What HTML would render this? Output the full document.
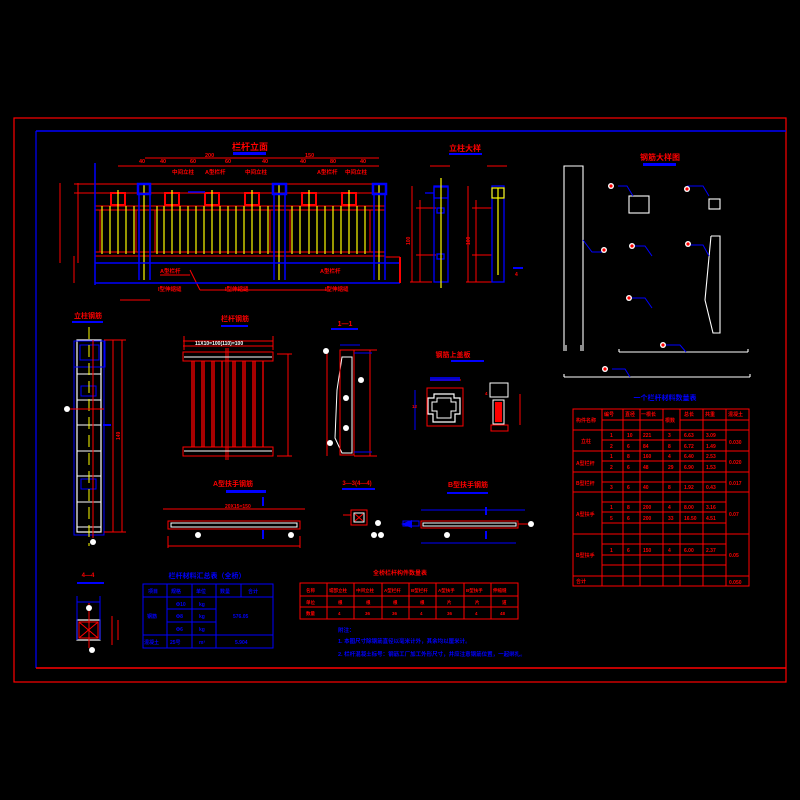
<!DOCTYPE html>
<html><head><meta charset="utf-8"><style>
html,body{margin:0;padding:0;background:#000;}
svg{display:block}
text{font-family:"Liberation Sans","Noto Sans CJK SC",sans-serif;font-weight:bold}
</style></head><body>
<svg width="800" height="800" viewBox="0 0 800 800" xmlns="http://www.w3.org/2000/svg">
<rect width="800" height="800" fill="#000"/>
<!-- frames -->
<rect x="14" y="118" width="772" height="564" fill="none" stroke="#f00" stroke-width="1.2"/>
<line x1="36" y1="131" x2="786" y2="131" stroke="#00f" stroke-width="1.5"/>
<line x1="36" y1="131" x2="36" y2="668" stroke="#00f" stroke-width="1.2"/>
<line x1="36" y1="668" x2="786" y2="668" stroke="#f00" stroke-width="1.5"/>

<!-- ===== Elevation ===== -->
<text x="250" y="150" fill="#f00" font-size="9" text-anchor="middle">栏杆立面</text>
<rect x="233" y="152" width="33" height="3" fill="#00f"/>
<g stroke="#f00" stroke-width="1" fill="none">
<line x1="145" y1="158" x2="379" y2="158"/>
<line x1="118" y1="166" x2="379" y2="166"/>
<line x1="74" y1="184" x2="379" y2="184"/>
<line x1="74" y1="193" x2="379" y2="193"/>
<line x1="95" y1="206" x2="385" y2="206"/>
<line x1="95" y1="210" x2="385" y2="210"/>
<line x1="95" y1="252" x2="385" y2="252"/>
<line x1="95" y1="256" x2="385" y2="256"/>
<line x1="78" y1="183" x2="78" y2="263"/>
<line x1="74" y1="256" x2="74" y2="283"/>
<rect x="100" y="210" width="36" height="42"/>
<rect x="155" y="210" width="115" height="42"/>
<rect x="290" y="210" width="80" height="42"/>
<line x1="385" y1="257" x2="400" y2="257"/>
<line x1="270" y1="290" x2="200" y2="290"/><line x1="200" y1="290" x2="190" y2="270"/>
<line x1="330" y1="290" x2="268" y2="290"/>
<line x1="160" y1="275" x2="190" y2="275"/>
<line x1="120" y1="300" x2="150" y2="300"/>
</g>
<!-- ornaments -->
<g fill="none" stroke="#f00" stroke-width="2">
<rect x="111" y="193" width="14" height="12"/><rect x="165" y="193" width="14" height="12"/>
<rect x="205" y="193" width="14" height="12"/><rect x="245" y="193" width="14" height="12"/>
<rect x="302" y="193" width="14" height="12"/><rect x="342" y="193" width="14" height="12"/>
</g>
<!-- yellow balusters -->
<g stroke="#ff0" stroke-width="1.2">
<line x1="102" y1="206" x2="102" y2="254"/><line x1="110" y1="206" x2="110" y2="254"/><line x1="118" y1="190" x2="118" y2="254"/><line x1="126" y1="206" x2="126" y2="254"/><line x1="134" y1="206" x2="134" y2="254"/>
<line x1="157" y1="206" x2="157" y2="254"/><line x1="164" y1="206" x2="164" y2="254"/><line x1="172" y1="190" x2="172" y2="254"/><line x1="180" y1="206" x2="180" y2="254"/><line x1="188" y1="206" x2="188" y2="254"/><line x1="196" y1="206" x2="196" y2="254"/><line x1="204" y1="206" x2="204" y2="254"/><line x1="212" y1="190" x2="212" y2="254"/><line x1="220" y1="206" x2="220" y2="254"/><line x1="228" y1="206" x2="228" y2="254"/><line x1="236" y1="206" x2="236" y2="254"/><line x1="244" y1="206" x2="244" y2="254"/><line x1="252" y1="190" x2="252" y2="254"/><line x1="260" y1="206" x2="260" y2="254"/><line x1="268" y1="206" x2="268" y2="254"/>
<line x1="292" y1="206" x2="292" y2="254"/><line x1="300" y1="206" x2="300" y2="254"/><line x1="309" y1="190" x2="309" y2="254"/><line x1="317" y1="206" x2="317" y2="254"/><line x1="325" y1="206" x2="325" y2="254"/><line x1="333" y1="206" x2="333" y2="254"/><line x1="341" y1="206" x2="341" y2="254"/><line x1="349" y1="190" x2="349" y2="254"/><line x1="357" y1="206" x2="357" y2="254"/><line x1="365" y1="206" x2="365" y2="254"/>
<line x1="144" y1="185" x2="144" y2="280"/><line x1="279" y1="185" x2="279" y2="280"/><line x1="379" y1="185" x2="379" y2="280"/>
</g>
<!-- posts -->
<g fill="none" stroke="#00f" stroke-width="1.5">
<rect x="138" y="184" width="12" height="10" stroke-width="2.5"/><rect x="273" y="184" width="13" height="10" stroke-width="2.5"/><rect x="373" y="184" width="13" height="10" stroke-width="2.5"/>
<line x1="139" y1="194" x2="139" y2="280"/><line x1="150" y1="194" x2="150" y2="280"/>
<line x1="274" y1="194" x2="274" y2="280"/><line x1="285" y1="194" x2="285" y2="280"/>
<line x1="374" y1="194" x2="374" y2="280"/><line x1="385" y1="194" x2="385" y2="280"/>
<line x1="95" y1="263" x2="400" y2="263"/><line x1="95" y1="283" x2="400" y2="283"/>
<line x1="95" y1="163" x2="95" y2="285"/>
<line x1="188" y1="192" x2="205" y2="192"/>
</g>
<g fill="#f00" font-size="5.5">
<text x="139" y="163">40</text><text x="160" y="163">40</text><text x="190" y="163">60</text><text x="225" y="163">60</text><text x="262" y="163">40</text><text x="300" y="163">40</text><text x="330" y="163">80</text><text x="360" y="163">40</text>
<text x="205" y="157">200</text><text x="305" y="157">150</text>
<text x="160" y="273" fill="#f00">A型栏杆</text><text x="320" y="273">A型栏杆</text>
<text x="158" y="291">I型伸缩缝</text><text x="225" y="291">I型伸缩缝</text><text x="325" y="291">I型伸缩缝</text>
<text x="172" y="174">中间立柱</text><text x="205" y="174">A型栏杆</text><text x="245" y="174">中间立柱</text><text x="317" y="174">A型栏杆</text><text x="345" y="174">中间立柱</text>
</g>
<line x1="60" y1="183" x2="60" y2="263" stroke="#f00"/>

<!-- ===== Column detail (top middle-right) ===== -->
<text x="465" y="151" fill="#f00" font-size="8" text-anchor="middle">立柱大样</text>
<rect x="449" y="153" width="33" height="2" fill="#00f"/>
<g fill="none" stroke="#f00" stroke-width="1">
<line x1="412" y1="186" x2="412" y2="282"/><line x1="420" y1="200" x2="420" y2="282"/><line x1="410" y1="282" x2="432" y2="282"/>
<line x1="468" y1="186" x2="468" y2="282"/><line x1="476" y1="200" x2="476" y2="282"/><line x1="466" y1="282" x2="492" y2="282"/>
<line x1="416" y1="208" x2="436" y2="208"/><line x1="416" y1="255" x2="436" y2="255"/>
<line x1="472" y1="208" x2="492" y2="208"/><line x1="472" y1="255" x2="492" y2="255"/>
<line x1="430" y1="166" x2="450" y2="166"/><line x1="487" y1="166" x2="507" y2="166"/>
</g>
<g fill="none" stroke="#00f" stroke-width="1.3">
<rect x="434" y="186" width="14" height="96"/><rect x="492" y="186" width="12" height="96"/>
<rect x="434" y="187" width="14" height="11"/><rect x="437" y="208" width="7" height="5"/><rect x="437" y="254" width="7" height="5"/>
<line x1="425" y1="193" x2="434" y2="193"/>
<line x1="513" y1="268" x2="523" y2="268" stroke-width="2"/>
</g>
<g stroke="#ff0" stroke-width="1.2"><line x1="441" y1="178" x2="441" y2="288"/><line x1="498" y1="188" x2="498" y2="275"/>
<rect x="492" y="188" width="12" height="10" fill="none"/></g>
<g fill="#f00" font-size="5"><text x="408" y="243" transform="rotate(-90 410 243)">100</text><text x="468" y="243" transform="rotate(-90 470 243)">100</text><text x="515" y="276">4</text></g>
<rect x="399" y="257" width="2" height="26" fill="#f00"/>

<!-- ===== Rebar details (top right) ===== -->
<text x="660" y="160" fill="#f00" font-size="8" text-anchor="middle">钢筋大样图</text>
<rect x="643" y="163" width="33" height="3" fill="#00f"/>
<g fill="none" stroke="#fff" stroke-width="1.1">
<path d="M564 351 V166 H583 V351 M566 345 v6 M581 345 v6"/>
<rect x="629" y="196" width="20" height="17"/>
<rect x="709" y="199" width="11" height="10"/>
<path d="M711 236 H720 V333 H713 L705 300 L711 236"/>
<path d="M619 352 H748 M619 352 v-3 M748 352 v-3"/>
<path d="M564 377 H750 M564 377 v-3 M750 377 v-3"/>
</g>
<g fill="none" stroke="#00f" stroke-width="1"><path d="M583 240 L592 252 H603"/><path d="M618 186 H627 L633 196"/><path d="M687 186 H703 L709 196"/><path d="M634 246 H645 L652 256"/><path d="M687 245 H703 L709 256"/><path d="M630 298 H645 L652 308"/><path d="M666 345 H680 L686 352"/><path d="M612 369 H625 L630 377"/></g>
<g fill="#fff"><circle cx="604" cy="250" r="3"/><circle cx="611" cy="186" r="3"/><circle cx="687" cy="189" r="3"/><circle cx="632" cy="246" r="3"/><circle cx="688" cy="244" r="3"/><circle cx="629" cy="298" r="3"/><circle cx="663" cy="345" r="3"/><circle cx="605" cy="369" r="3"/></g>
<g fill="#f00"><circle cx="604" cy="250" r="1.6"/><circle cx="611" cy="186" r="1.6"/><circle cx="687" cy="189" r="1.6"/><circle cx="632" cy="246" r="1.6"/><circle cx="688" cy="244" r="1.6"/><circle cx="629" cy="298" r="1.6"/><circle cx="663" cy="345" r="1.6"/><circle cx="605" cy="369" r="1.6"/></g>

<!-- ===== Table right ===== -->
<text x="665" y="400" fill="#00f" font-size="7" text-anchor="middle">一个栏杆材料数量表</text>
<g fill="none" stroke="#f00" stroke-width="1">
<rect x="573" y="409" width="176" height="177"/>
<line x1="602" y1="409" x2="602" y2="586"/><line x1="623" y1="409" x2="623" y2="586"/><line x1="640" y1="409" x2="640" y2="586"/><line x1="663" y1="409" x2="663" y2="586"/><line x1="680" y1="409" x2="680" y2="586"/><line x1="703" y1="409" x2="703" y2="586"/><line x1="726" y1="409" x2="726" y2="586"/>
<line x1="602" y1="420" x2="663" y2="420"/><line x1="680" y1="420" x2="749" y2="420"/>
<line x1="573" y1="430" x2="749" y2="430"/>
<line x1="602" y1="440" x2="726" y2="440"/><line x1="573" y1="451" x2="749" y2="451"/>
<line x1="602" y1="461" x2="726" y2="461"/><line x1="573" y1="472" x2="749" y2="472"/>
<line x1="602" y1="482" x2="726" y2="482"/><line x1="573" y1="492" x2="749" y2="492"/>
<line x1="602" y1="502" x2="726" y2="502"/><line x1="602" y1="512" x2="726" y2="512"/><line x1="602" y1="523" x2="726" y2="523"/>
<line x1="573" y1="534" x2="749" y2="534"/>
<line x1="602" y1="544" x2="726" y2="544"/><line x1="602" y1="555" x2="726" y2="555"/><line x1="602" y1="565" x2="726" y2="565"/>
<line x1="573" y1="576" x2="749" y2="576"/>
</g>
<g fill="#f00" font-size="5">
<text x="576" y="422">构件名称</text><text x="604" y="416">编号</text><text x="625" y="416">直径</text><text x="641" y="416">一根长</text><text x="665" y="422">根数</text><text x="684" y="416">总长</text><text x="705" y="416">共重</text><text x="728" y="416">混凝土</text>
<text x="581" y="443">立柱</text><text x="576" y="465">A型栏杆</text><text x="576" y="485">B型栏杆</text><text x="576" y="516">A型扶手</text><text x="576" y="557">B型扶手</text><text x="576" y="583">合计</text>
<text x="729" y="444">0.030</text><text x="729" y="464">0.020</text><text x="729" y="485">0.017</text><text x="729" y="516">0.07</text><text x="729" y="557">0.05</text><text x="729" y="584">0.050</text>
<text x="610" y="437">1</text><text x="627" y="437">10</text><text x="643" y="437">221</text><text x="668" y="437">3</text><text x="684" y="437">6.63</text><text x="706" y="437">3.09</text>
<text x="610" y="448">2</text><text x="627" y="448">6</text><text x="643" y="448">84</text><text x="668" y="448">8</text><text x="684" y="448">6.72</text><text x="706" y="448">1.49</text>
<text x="610" y="458">1</text><text x="627" y="458">8</text><text x="643" y="458">160</text><text x="668" y="458">4</text><text x="684" y="458">6.40</text><text x="706" y="458">2.53</text>
<text x="610" y="469">2</text><text x="627" y="469">6</text><text x="643" y="469">48</text><text x="668" y="469">29</text><text x="684" y="469">6.90</text><text x="706" y="469">1.53</text>
<text x="610" y="489">3</text><text x="627" y="489">6</text><text x="643" y="489">40</text><text x="668" y="489">8</text><text x="684" y="489">1.92</text><text x="706" y="489">0.43</text>
<text x="610" y="509">1</text><text x="627" y="509">8</text><text x="643" y="509">200</text><text x="668" y="509">4</text><text x="684" y="509">8.00</text><text x="706" y="509">3.16</text>
<text x="610" y="520">5</text><text x="627" y="520">6</text><text x="643" y="520">200</text><text x="668" y="520">33</text><text x="684" y="520">16.50</text><text x="706" y="520">4.51</text>
<text x="610" y="552">1</text><text x="627" y="552">6</text><text x="643" y="552">150</text><text x="668" y="552">4</text><text x="684" y="552">6.00</text><text x="706" y="552">2.37</text>
</g>

<!-- ===== Post section left ===== -->
<text x="88" y="318" fill="#f00" font-size="7" text-anchor="middle">立柱钢筋</text>
<rect x="72" y="321" width="31" height="2" fill="#00f"/>
<g fill="none">
<rect x="77" y="340" width="24" height="192" stroke="#fff" stroke-width="1.2"/>
<rect x="74" y="341" width="30" height="194" stroke="#00f" stroke-width="1"/>
<rect x="74" y="341" width="31" height="26" stroke="#00f"/><rect x="80" y="345" width="19" height="15" stroke="#00f"/>
<rect x="81" y="386" width="15" height="10" stroke="#00f"/><rect x="81" y="479" width="15" height="10" stroke="#00f"/>
<g stroke="#fff"><line x1="77" y1="374" x2="101" y2="374"/><line x1="77" y1="400" x2="101" y2="400"/><line x1="77" y1="425" x2="101" y2="425"/><line x1="77" y1="451" x2="101" y2="451"/><line x1="77" y1="476" x2="101" y2="476"/><line x1="77" y1="502" x2="101" y2="502"/><line x1="77" y1="527" x2="101" y2="527"/></g>
<line x1="89" y1="327" x2="89" y2="546" stroke="#ff0" stroke-dasharray="12 6"/>
<line x1="93" y1="340" x2="93" y2="538" stroke="#f00"/>
<line x1="113" y1="340" x2="113" y2="532" stroke="#f00"/><line x1="122" y1="340" x2="122" y2="532" stroke="#f00"/>
<line x1="104" y1="340" x2="126" y2="340" stroke="#f00"/><line x1="104" y1="532" x2="126" y2="532" stroke="#f00"/>
<line x1="68" y1="409" x2="104" y2="409" stroke="#f00"/>
</g>
<circle cx="67" cy="409" r="3" fill="#fff"/><circle cx="93" cy="542" r="3" fill="#fff"/>
<rect x="103" y="424" width="8" height="2" fill="#00f"/>
<text x="120" y="440" fill="#f00" font-size="5" transform="rotate(-90 120 440)">149</text>

<!-- ===== Panel ===== -->
<text x="235" y="321" fill="#f00" font-size="7" text-anchor="middle">栏杆钢筋</text>
<rect x="221" y="325" width="27" height="2" fill="#00f"/>
<g fill="none" stroke="#f00" stroke-width="1">
<rect x="183" y="352" width="90" height="9"/><rect x="183" y="447" width="90" height="9"/>
<line x1="183" y1="341" x2="273" y2="341"/><line x1="183" y1="346" x2="273" y2="346"/>
<line x1="184" y1="336" x2="184" y2="350"/><line x1="273" y1="336" x2="273" y2="350"/>
<line x1="226" y1="348" x2="226" y2="460"/><line x1="228" y1="348" x2="228" y2="460"/>
<line x1="288" y1="354" x2="288" y2="456"/><line x1="277" y1="354" x2="292" y2="354"/><line x1="277" y1="456" x2="292" y2="456"/>
</g>
<g stroke="#f00" stroke-width="1.3">
<line x1="192" y1="361" x2="192" y2="447"/><line x1="194" y1="361" x2="194" y2="447"/><line x1="202" y1="361" x2="202" y2="447"/><line x1="204" y1="361" x2="204" y2="447"/><line x1="212" y1="361" x2="212" y2="447"/><line x1="214" y1="361" x2="214" y2="447"/><line x1="222" y1="361" x2="222" y2="447"/>
<line x1="233" y1="361" x2="233" y2="447"/><line x1="235" y1="361" x2="235" y2="447"/><line x1="243" y1="361" x2="243" y2="447"/><line x1="245" y1="361" x2="245" y2="447"/><line x1="253" y1="361" x2="253" y2="447"/><line x1="255" y1="361" x2="255" y2="447"/><line x1="263" y1="361" x2="263" y2="447"/>
</g>
<g stroke="#fff" stroke-width="1"><line x1="184" y1="357" x2="272" y2="357"/><line x1="184" y1="451" x2="272" y2="451"/></g>
<text x="195" y="345" fill="#fff" font-size="5">11X10=100(110)=100</text>

<!-- ===== 1-1 ===== -->
<text x="345" y="326" fill="#f00" font-size="7" text-anchor="middle">1—1</text>
<rect x="331" y="328" width="27" height="2" fill="#00f"/>
<g fill="none">
<path d="M342 357 H352 V453 H342 L335 438 L337 390 Z" stroke="#fff" stroke-width="1"/>
<rect x="340" y="350" width="14" height="105" stroke="#f00"/>
<line x1="327" y1="350" x2="327" y2="456" stroke="#f00"/><line x1="370" y1="350" x2="370" y2="456" stroke="#f00"/>
<line x1="354" y1="350" x2="377" y2="350" stroke="#f00"/><line x1="354" y1="456" x2="377" y2="456" stroke="#f00"/>
<line x1="340" y1="345" x2="360" y2="345" stroke="#00f"/><line x1="354" y1="353" x2="372" y2="353" stroke="#00f"/><line x1="354" y1="452" x2="372" y2="452" stroke="#00f"/>
</g>
<g fill="#fff"><circle cx="326" cy="351" r="3"/><circle cx="361" cy="380" r="3"/><circle cx="346" cy="398" r="3"/><circle cx="346" cy="428" r="3"/><circle cx="330" cy="443" r="3"/></g>

<!-- ===== Detail ===== -->
<text x="453" y="357" fill="#f00" font-size="7" text-anchor="middle">钢筋上盖板</text>
<rect x="451" y="360" width="33" height="2" fill="#00f"/>
<g fill="none">
<path d="M434 394 H454 V398 H460 V414 H455 V422 H433 V414 H428 V398 H434 Z" stroke="#fff" stroke-width="1.2"/>
<path d="M437 398 H451 V402 H456 V411 H451 V418 H437 V411 H432 V402 H437 Z" stroke="#fff"/>
<rect x="427" y="388" width="36" height="38" stroke="#f00"/>
<rect x="490" y="383" width="18" height="14" stroke="#fff"/>
<rect x="493" y="400" width="11" height="24" stroke="#fff"/>
<rect x="495" y="402" width="7" height="20" fill="#f00"/>
<rect x="491" y="425" width="17" height="6" stroke="#f00"/>
<line x1="415" y1="390" x2="415" y2="430" stroke="#00f"/><line x1="520" y1="394" x2="520" y2="425" stroke="#f00"/>
<line x1="430" y1="380" x2="461" y2="380" stroke="#f00"/>
</g>
<rect x="430" y="377" width="30" height="4" fill="#00f" opacity="0.8"/>
<g fill="#f00" font-size="4.5"><text x="412" y="408">12</text><text x="485" y="395">4</text></g>

<!-- ===== A rail ===== -->
<text x="233" y="486" fill="#f00" font-size="7" text-anchor="middle">A型扶手钢筋</text>
<rect x="226" y="490" width="40" height="3" fill="#00f"/>
<g fill="none">
<rect x="168" y="521" width="132" height="8" stroke="#f00"/>
<rect x="171" y="523" width="126" height="4" stroke="#fff"/>
<line x1="163" y1="509" x2="305" y2="509" stroke="#f00"/>
<line x1="168" y1="536" x2="168" y2="548" stroke="#f00"/><line x1="300" y1="536" x2="300" y2="548" stroke="#f00"/>
<line x1="168" y1="546" x2="300" y2="546" stroke="#f00"/>
</g>
<g fill="#fff"><circle cx="198" cy="535" r="3"/><circle cx="291" cy="535" r="3"/></g>
<rect x="262" y="497" width="2" height="9" fill="#00f"/><rect x="262" y="530" width="2" height="9" fill="#00f"/>
<text x="225" y="508" fill="#f00" font-size="5">20X15=150</text>

<!-- ===== 3-3 ===== -->
<text x="357" y="485" fill="#f00" font-size="6" text-anchor="middle">3—3(4—4)</text>
<rect x="342" y="488" width="33" height="2" fill="#00f"/>
<g fill="none">
<rect x="351" y="510" width="16" height="15" stroke="#f00"/>
<rect x="354" y="513" width="10" height="9" stroke="#fff"/>
<path d="M355 514 L363 521 M363 514 L355 521" stroke="#f00"/>
<line x1="343" y1="515" x2="351" y2="515" stroke="#f00"/>
</g>
<g fill="#fff"><circle cx="378" cy="523" r="3"/><circle cx="374" cy="535" r="3"/><circle cx="381" cy="535" r="3"/></g>

<!-- ===== B rail ===== -->
<text x="468" y="487" fill="#f00" font-size="7" text-anchor="middle">B型扶手钢筋</text>
<rect x="447" y="492" width="41" height="2" fill="#00f"/>
<g fill="none">
<rect x="421" y="521" width="97" height="7" stroke="#f00"/>
<rect x="423" y="523" width="93" height="3" stroke="#fff"/>
<line x1="421" y1="510" x2="525" y2="510" stroke="#00f"/>
<line x1="421" y1="543" x2="516" y2="543" stroke="#00f"/>
<line x1="518" y1="524" x2="532" y2="524" stroke="#f00"/>
</g>
<polygon points="401,524 412,520 412,528" fill="#00f"/>
<rect x="403" y="521" width="16" height="5" fill="none" stroke="#00f"/>
<g fill="#fff"><circle cx="447" cy="535" r="3"/><circle cx="531" cy="524" r="3"/></g>
<rect x="485" y="507" width="2" height="8" fill="#00f"/><rect x="485" y="531" width="2" height="8" fill="#00f"/>

<!-- ===== 4-4 ===== -->
<text x="88" y="577" fill="#f00" font-size="6" text-anchor="middle">4—4</text>
<rect x="77" y="582" width="27" height="2" fill="#00f"/>
<g fill="none">
<rect x="77" y="620" width="23" height="20" stroke="#fff" stroke-width="1.2"/>
<rect x="79" y="622" width="19" height="16" stroke="#f00"/>
<path d="M79 622 L98 638 M98 622 L79 638" stroke="#f00"/>
<line x1="89" y1="603" x2="89" y2="648" stroke="#f00"/>
<line x1="77" y1="596" x2="77" y2="640" stroke="#00f"/><line x1="100" y1="596" x2="100" y2="640" stroke="#00f"/>
<line x1="77" y1="602" x2="100" y2="602" stroke="#00f"/>
<line x1="112" y1="616" x2="112" y2="645" stroke="#f00"/><line x1="118" y1="620" x2="118" y2="640" stroke="#f00"/>
</g>
<circle cx="89" cy="608" r="3" fill="#fff"/><circle cx="92" cy="650" r="3" fill="#fff"/>

<!-- ===== Blue table ===== -->
<text x="207" y="578" fill="#00f" font-size="7" text-anchor="middle">栏杆材料汇总表（全桥）</text>
<g fill="none" stroke="#00f" stroke-width="1">
<rect x="143" y="584" width="130" height="64"/>
<line x1="167" y1="584" x2="167" y2="648"/><line x1="192" y1="584" x2="192" y2="648"/><line x1="216" y1="584" x2="216" y2="648"/><line x1="241" y1="584" x2="241" y2="597"/>
<line x1="143" y1="597" x2="273" y2="597"/><line x1="167" y1="609" x2="216" y2="609"/><line x1="167" y1="622" x2="216" y2="622"/><line x1="143" y1="635" x2="273" y2="635"/>
</g>
<g fill="#00f" font-size="5"><text x="148" y="593">项目</text><text x="171" y="593">规格</text><text x="196" y="593">单位</text><text x="220" y="593">数量</text><text x="248" y="593">合计</text>
<text x="147" y="618">钢筋</text><text x="176" y="606">Φ10</text><text x="176" y="618">Φ8</text><text x="176" y="631">Φ6</text><text x="199" y="606">kg</text><text x="199" y="618">kg</text><text x="199" y="631">kg</text><text x="233" y="618">576.05</text>
<text x="144" y="644">混凝土</text><text x="170" y="644">25号</text><text x="199" y="644">m³</text><text x="235" y="644">5.904</text></g>

<!-- ===== Red table ===== -->
<text x="400" y="575" fill="#f00" font-size="6" text-anchor="middle">全桥栏杆构件数量表</text>
<g fill="none" stroke="#f00" stroke-width="1">
<rect x="300" y="583" width="218" height="36"/>
<line x1="327" y1="583" x2="327" y2="619"/><line x1="354" y1="583" x2="354" y2="619"/><line x1="382" y1="583" x2="382" y2="619"/><line x1="409" y1="583" x2="409" y2="619"/><line x1="436" y1="583" x2="436" y2="619"/><line x1="464" y1="583" x2="464" y2="619"/><line x1="491" y1="583" x2="491" y2="619"/>
<line x1="300" y1="596" x2="518" y2="596"/><line x1="300" y1="607" x2="518" y2="607"/>
</g>
<g fill="#f00" font-size="4.5"><text x="306" y="592">名称</text><text x="329" y="592">端部立柱</text><text x="356" y="592">中间立柱</text><text x="384" y="592">A型栏杆</text><text x="411" y="592">B型栏杆</text><text x="438" y="592">A型扶手</text><text x="466" y="592">B型扶手</text><text x="493" y="592">伸缩缝</text>
<text x="306" y="604">单位</text><text x="338" y="604">根</text><text x="366" y="604">根</text><text x="393" y="604">根</text><text x="420" y="604">根</text><text x="447" y="604">片</text><text x="475" y="604">片</text><text x="502" y="604">道</text>
<text x="306" y="615">数量</text><text x="338" y="615">4</text><text x="365" y="615">36</text><text x="392" y="615">36</text><text x="420" y="615">4</text><text x="447" y="615">36</text><text x="475" y="615">4</text><text x="500" y="615">48</text></g>

<!-- notes -->
<g fill="#00f" font-size="5.5"><text x="338" y="632">附注：</text>
<text x="338" y="643">1. 本图尺寸除钢筋直径以毫米计外，其余均以厘米计。</text>
<text x="338" y="656">2. 栏杆混凝土标号：钢筋工厂加工外形尺寸，并应注意钢筋位置，一起绑扎。</text></g>
</svg>
</body></html>
